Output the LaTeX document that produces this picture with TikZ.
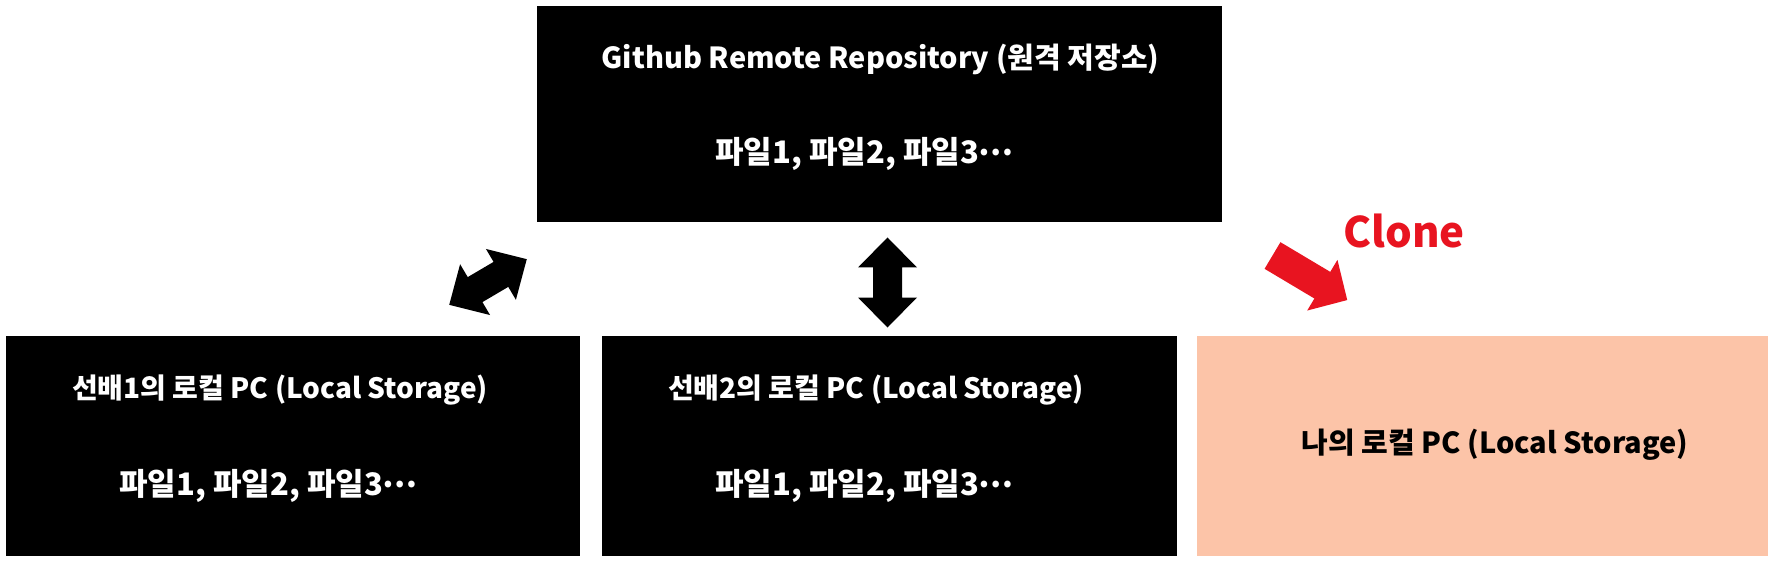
\documentclass[tikz,border=0pt]{standalone}
\usepackage{fontspec}
\setmainfont{Noto Sans CJK KR}
\definecolor{peach}{RGB}{252,196,168}
\definecolor{clonered}{RGB}{232,20,32}
\newcommand{\midellip}{\raisebox{0.25em}{…}}
\tikzset{
  box/.style={anchor=north west, inner sep=0pt, outer sep=0pt},
  hdr/.style={inner sep=0pt, font=\bfseries\fontsize{28}{34}\selectfont},
  bighdr/.style={inner sep=0pt, font=\bfseries\fontsize{29}{34}\selectfont},
  files/.style={inner sep=0pt, font=\bfseries\fontsize{31}{36}\selectfont},
  blockarrow/.style={fill=black, draw=none},
}
\begin{document}
\begin{tikzpicture}[x=1pt,y=-1pt]
\path[use as bounding box, fill=white] (0,0) rectangle (1774,561);
% boxes
\node[box, fill=black, minimum width=685pt, minimum height=216pt] (remote) at (537,6) {};
\node[box, fill=black, minimum width=574pt, minimum height=220pt] (pc1) at (6,336) {};
\node[box, fill=black, minimum width=575pt, minimum height=220pt] (pc2) at (602,336) {};
\node[box, fill=peach, minimum width=571pt, minimum height=220pt] (mine) at (1197,336) {};
% texts
\node[bighdr, text=white] (remoteT) at (880.5,59) {Github Remote Repository (원격 저장소)};
\node[files, text=white] (remoteF) at (864.5,154) {파일1, 파일2, 파일3\midellip};
\node[hdr, text=white] (pc1T) at (280,390) {선배1의 로컬 PC (Local Storage)};
\node[files, text=white] (pc1F) at (268.5,486) {파일1, 파일2, 파일3\midellip};
\node[hdr, text=white] (pc2T) at (876,390) {선배2의 로컬 PC (Local Storage)};
\node[files, text=white] (pc2F) at (864.5,486) {파일1, 파일2, 파일3\midellip};
\node[bighdr, text=black] (mineT) at (1495,445) {나의 로컬 PC (Local Storage)};
\node[inner sep=0pt, text=clonered, font=\bfseries\fontsize{42}{46}\selectfont] (clone) at (1404,231) {Clone};
% double arrows
\begin{scope}[shift={(488,282)}, rotate=30.5]
\fill[blockarrow] (-45,0) -- (-15,-29.5) -- (-15,-14.5) -- (15,-14.5) -- (15,-29.5) -- (45,0) -- (15,29.5) -- (15,14.5) -- (-15,14.5) -- (-15,29.5) -- cycle;
\end{scope}
\begin{scope}[shift={(887.5,282.5)}, rotate=90]
\fill[blockarrow] (-45,0) -- (-15,-29.5) -- (-15,-14.5) -- (15,-14.5) -- (15,-29.5) -- (45,0) -- (15,29.5) -- (15,14.5) -- (-15,14.5) -- (-15,29.5) -- cycle;
\end{scope}
% clone arrow
\begin{scope}[shift={(1272.5,255.5)}, rotate=-30.8]
\fill[clonered] (0,-15.5) -- (58,-15.5) -- (58,-29.5) -- (87,0) -- (58,29.5) -- (58,15.5) -- (0,15.5) -- cycle;
\end{scope}
\end{tikzpicture}
\end{document}
